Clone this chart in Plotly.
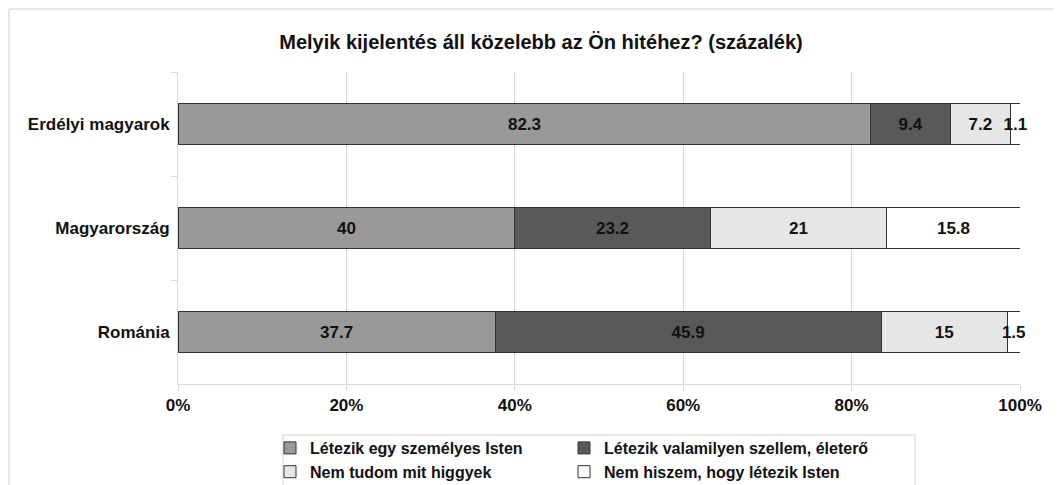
import plotly.graph_objects as go

categories = ["Erdélyi magyarok", "Magyarország", "Románia"]
series_names = [
    "Létezik egy személyes Isten",
    "Létezik valamilyen szellem, életerő",
    "Nem tudom mit higgyek",
    "Nem hiszem, hogy létezik Isten",
]
val_szemelyes = [82.3, 40, 37.7]
val_szellem = [9.4, 23.2, 45.9]
val_nemtudom = [7.2, 21, 15]
val_nemhiszem = [1.1, 15.8, 1.5]
colors = ["#999999", "#595959", "#e6e6e6", "#ffffff"]
x_ticks = [0, 20, 40, 60, 80, 100]
x_tick_labels = ["0%", "20%", "40%", "60%", "80%", "100%"]
title_text = "Melyik kijelentés áll közelebb az Ön hitéhez? (százalék)"

FONT = "Liberation Sans, Arial, sans-serif"
all_vals = [val_szemelyes, val_szellem, val_nemtudom, val_nemhiszem]
legend_ids = ["legend", "legend2", "legend", "legend2"]

# page has an 8px body margin; figure coordinates are offset accordingly
W, H = 1053, 477
PL, PR, PT, PB = 170, 1012, 64, 376  # plot area in figure pixels

fig = go.Figure()
for name, vals, col, lg in zip(series_names, all_vals, colors, legend_ids):
    fig.add_trace(go.Bar(
        name=name,
        y=categories,
        x=vals,
        orientation="h",
        legend=lg,
        marker=dict(color=col, line=dict(color="#333333", width=1)),
        text=[f"{v:g}" for v in vals],
        textposition="inside",
        insidetextanchor="middle",
        constraintext="none",
        textangle=0,
        textfont=dict(family=FONT, size=17, color="#111111", weight="bold"),
        cliponaxis=False,
    ))

pw = PR - PL
ph = PB - PT

def px_x(x):
    return (x - 8 - PL) / pw

def px_y(y):
    return (PB - (y - 8)) / ph

legend_common = dict(
    orientation="v",
    xref="container", yref="container",
    xanchor="left",
    y=1 - (431 - 8) / H, yanchor="top",
    bgcolor="rgba(0,0,0,0)",
    borderwidth=0,
    font=dict(family=FONT, size=16, color="#111111", weight="bold"),
    itemwidth=30,
    tracegroupgap=0,
    traceorder="normal",
)

fig.update_layout(
    barmode="stack",
    barnorm="percent",
    bargap=0.6,
    width=W,
    height=H,
    margin=dict(l=PL, r=W - PR, t=PT, b=H - PB, pad=0, autoexpand=False),
    paper_bgcolor="white",
    plot_bgcolor="white",
    font=dict(family=FONT, size=17, color="#111111"),
    title=dict(
        text=title_text,
        x=(541 - 8) / W, xref="container", xanchor="center",
        y=1 - (42 - 8) / H, yref="container", yanchor="middle",
        font=dict(family=FONT, size=20, color="#111111", weight="bold"),
    ),
    xaxis=dict(
        range=[0, 100],
        tickvals=x_ticks,
        ticktext=x_tick_labels,
        showgrid=True,
        gridcolor="#d9d9d9",
        gridwidth=1,
        showline=True,
        linecolor="#d9d9d9",
        ticks="outside",
        ticklen=6,
        tickcolor="#d9d9d9",
        tickfont=dict(family=FONT, size=17, color="#111111", weight="bold"),
        zeroline=False,
        fixedrange=True,
    ),
    yaxis=dict(
        autorange="reversed",
        showline=True,
        linecolor="#d9d9d9",
        ticks="outside",
        tickson="boundaries",
        ticklen=6,
        tickcolor="#d9d9d9",
        showgrid=False,
        tickfont=dict(family=FONT, size=17, color="#111111", weight="bold"),
        ticklabelstandoff=4,
    ),
    legend=dict(legend_common, x=(270 - 8) / W),
    legend2=dict(legend_common, x=(564 - 8) / W),
    showlegend=True,
)

# outer chart frame
fig.add_shape(
    type="rect", xref="paper", yref="paper",
    x0=px_x(9), x1=1.2, y0=-0.6, y1=px_y(9),
    line=dict(color="#cccccc", width=1), fillcolor="rgba(0,0,0,0)",
    layer="below",
)
# legend frame
fig.add_shape(
    type="rect", xref="paper", yref="paper",
    x0=px_x(283), x1=px_x(915), y0=-0.6, y1=px_y(435),
    line=dict(color="#d0d0d0", width=1), fillcolor="rgba(0,0,0,0)",
    layer="below",
)

fig.write_html("out.html")
